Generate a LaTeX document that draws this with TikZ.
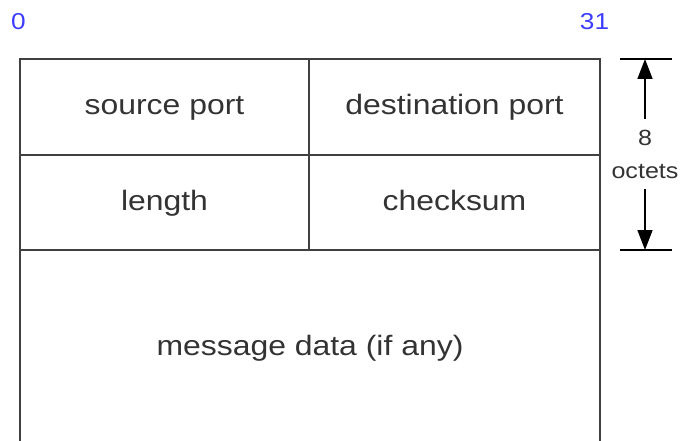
\documentclass[tikz,border=0pt]{standalone}
\usepackage{fontspec}
\setmainfont{Liberation Sans}[FakeStretch=1.14]
\usetikzlibrary{arrows.meta}
\definecolor{framegray}{HTML}{404040}
\definecolor{bitblue}{HTML}{3D3DFF}

\begin{document}
\begin{tikzpicture}[x=1pt,y=-1pt,
frame/.style={draw=framegray,line width=1.9pt},
field/.style={font=\fontsize{28}{34}\selectfont,text=black!80,anchor=base},
bitnum/.style={font=\fontsize{23}{28}\selectfont,text=bitblue},
dimlabel/.style={font=\fontsize{22}{33}\selectfont,text=black!80,align=center,inner xsep=2pt,inner ysep=11pt},
dimline/.style={draw=black,line width=1.6pt},
dimarrow/.style={dimline,-{Triangle[width=15pt,length=20pt]}}]
\useasboundingbox (0,0) rectangle (680,441);
% frame of the header
\coordinate (tl) at (20,59); \coordinate (tr) at (600,59);
\coordinate (bl) at (20,441); \coordinate (br) at (600,441);
\coordinate (r1l) at (20,155); \coordinate (r1r) at (600,155);
\coordinate (r2l) at (20,250); \coordinate (r2r) at (600,250);
\coordinate (midt) at (309,59); \coordinate (midb) at (309,250);
\draw[frame] (bl) -- (tl) -- (tr) -- (br);
\draw[frame] (r1l) -- (r1r);
\draw[frame] (r2l) -- (r2r);
\draw[frame] (midt) -- (midb);
% bit numbers
\node[bitnum] (bit0) at (18.5,21.5) {0};
\node[bitnum] (bit31) at (594.5,21.5) {31};
% fields (placed on their baselines)
\node[field] (srcport) at (164.5,115) {source port};
\node[field] (dstport) at (454.5,115) {destination port};
\node[field] (len) at (164.5,210.5) {length};
\node[field] (cksum) at (454.5,210.5) {checksum};
\node[field] (data) at (310,355) {message data (if any)};
% size of the header
\coordinate (toptickl) at (620,59); \coordinate (toptickr) at (672,59);
\coordinate (bottickl) at (620,250); \coordinate (bottickr) at (672,250);
\coordinate (dimtop) at (645,59); \coordinate (dimbot) at (645,250);
\draw[dimline] (toptickl) -- (toptickr);
\draw[dimline] (bottickl) -- (bottickr);
\node[dimlabel] (octets) at (645,154) {8\\octets};
\draw[dimarrow] (octets.north) -- (dimtop);
\draw[dimarrow] (octets.south) -- (dimbot);
\end{tikzpicture}
\end{document}
